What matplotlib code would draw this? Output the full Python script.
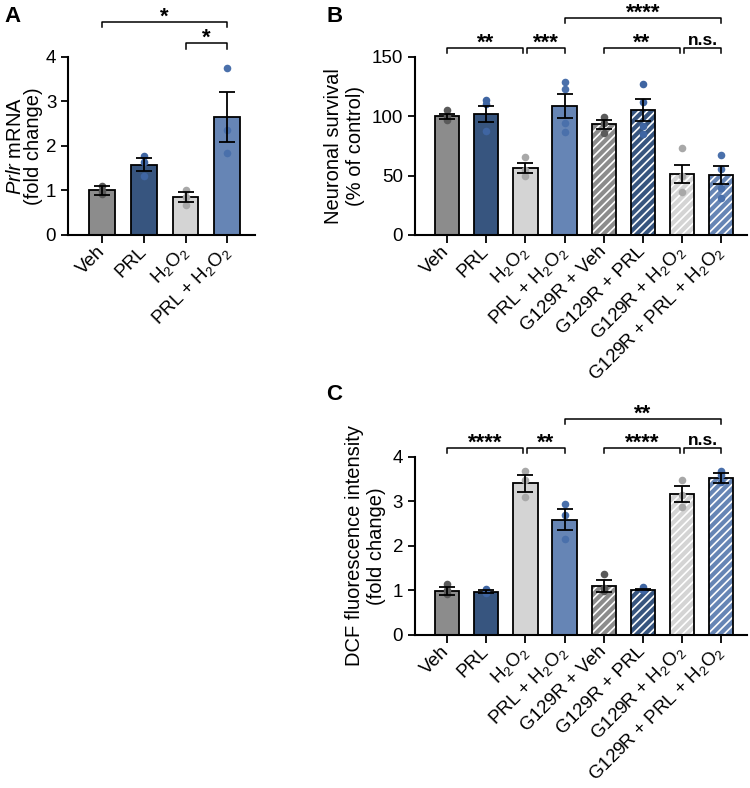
import numpy as np
import matplotlib
matplotlib.use("Agg")
import matplotlib.pyplot as plt

plt.rcParams['font.family'] = ['Liberation Sans', 'DejaVu Sans']
plt.rcParams['mathtext.fontset'] = 'custom'
plt.rcParams['mathtext.rm'] = 'Liberation Sans'
plt.rcParams['mathtext.it'] = 'Liberation Sans:italic'
plt.rcParams['hatch.linewidth'] = 1.2

# ---- data ----
labels_a = ['Veh', 'PRL', r'H$_2$O$_2$', r'PRL + H$_2$O$_2$']
mean_a = [1.0, 1.58, 0.86, 2.65]
sem_a = [0.1, 0.14, 0.11, 0.57]
dots_a = [[1.1, 0.98, 0.92], [1.78, 1.65, 1.32], [1.0, 0.86, 0.68], [3.75, 2.37, 1.85]]

labels_bc = ['Veh', 'PRL', r'H$_2$O$_2$', r'PRL + H$_2$O$_2$', 'G129R + Veh',
             'G129R + PRL', r'G129R + H$_2$O$_2$', r'G129R + PRL + H$_2$O$_2$']
mean_b = [100, 102, 56.4, 108.8, 93.4, 105, 51.6, 50.5]
sem_b = [2.2, 7, 4, 10.2, 3.8, 9.2, 7.7, 7.6]
dots_b = [[105, 100, 97], [114, 110, 88], [66, 55, 50], [129, 123, 94, 87],
          [99, 94, 86], [127, 112, 92, 85], [73, 50, 36], [67, 56, 40, 31]]

mean_c = [0.99, 0.97, 3.41, 2.59, 1.1, 1.02, 3.16, 3.52]
sem_c = [0.09, 0.03, 0.19, 0.24, 0.13, 0.02, 0.18, 0.11]
dots_c = [[1.15, 1.0, 0.93], [1.03, 0.98, 0.95], [3.69, 3.48, 3.09], [2.94, 2.70, 2.15],
          [1.37, 1.05, 0.99], [1.07, 1.02, 1.0], [3.48, 3.14, 2.88], [3.69, 3.59, 3.44]]

bar_colors = ['#8c8c8c', '#37557f', '#d4d4d4', '#6685b5']
dot_colors = ['#5a5a5a', '#3f65a2', '#a8a8a8', '#4a70ab']

# brackets: (i, j, row, text)
brackets_a = [(0, 3, 1, '*'), (2, 3, 0, '*')]
brackets_b = [(0, 2, 0, '**'), (2, 3, 0, '***'), (3, 7, 1, '****'),
              (4, 6, 0, '**'), (6, 7, 0, 'n.s.')]
brackets_c = [(0, 2, 0, '****'), (2, 3, 0, '**'), (3, 7, 1, '**'),
              (4, 6, 0, '****'), (6, 7, 0, 'n.s.')]


def draw_panel(ax, means, sems, dots, labels, ylim, yticks, ylabel, brackets, rows, drop,
               lblspacing=1.2, lblpad=5):
    n = len(means)
    x = np.arange(n)
    for i in range(n):
        c = i % 4
        if i < 4:
            ax.bar(x[i], means[i], 0.62, color=bar_colors[c], edgecolor='black',
                   linewidth=1.3, zorder=2)
        else:
            ax.bar(x[i], means[i], 0.62, color=bar_colors[c], edgecolor='white',
                   hatch='////', linewidth=0, zorder=2)
            ax.bar(x[i], means[i], 0.62, color='none', edgecolor='black',
                   linewidth=1.3, zorder=2.1)
        ax.scatter([x[i]] * len(dots[i]), dots[i], s=30, color=dot_colors[c],
                   zorder=3, linewidths=0, clip_on=False)
        ax.errorbar(x[i], means[i], yerr=sems[i], color='black', capsize=5.5,
                    elinewidth=1.3, capthick=1.3, zorder=4)

    ax.set_xlim(-0.82, n - 1 + 0.66)
    ax.set_ylim(*ylim)
    ax.set_yticks(yticks)
    ax.set_xticks(x)
    ax.set_xticklabels(labels, rotation=45, ha='right', va='center',
                       rotation_mode='anchor', fontsize=13.5)
    ax.set_ylabel(ylabel, fontsize=14.5, labelpad=lblpad, linespacing=lblspacing)
    ax.tick_params(axis='y', labelsize=13.5, width=1.3, length=5)
    ax.tick_params(axis='x', width=1.3, length=6, pad=4)
    ax.spines['top'].set_visible(False)
    ax.spines['right'].set_visible(False)
    ax.spines['left'].set_linewidth(1.5)
    ax.spines['bottom'].set_linewidth(1.5)

    for i, j, r, txt in brackets:
        y = rows[r]
        xi = i + 0.05 if any(b[1] == i and b[2] == r for b in brackets) else i
        xj = j - 0.05 if any(b[0] == j and b[2] == r for b in brackets) else j
        ax.plot([xi, xi, xj, xj], [y - drop, y, y, y - drop], color='black',
                lw=1.1, clip_on=False)
        if txt == 'n.s.':
            ax.annotate(txt, ((xi + xj) / 2, y), xytext=(0, 0), textcoords='offset points',
                        ha='center', va='bottom', fontsize=12.5, fontweight='bold',
                        annotation_clip=False)
        else:
            ax.annotate(txt, ((xi + xj) / 2, y), xytext=(0, -4), textcoords='offset points',
                        ha='center', va='bottom', fontsize=16, fontweight='bold',
                        annotation_clip=False)


fig = plt.figure(figsize=(7.5, 7.88), dpi=100)
ax_a = fig.add_axes([0.0907, 0.7018, 0.249, 0.2259])
ax_b = fig.add_axes([0.5533, 0.7018, 0.4427, 0.2259])
ax_c = fig.add_axes([0.5533, 0.1942, 0.4427, 0.2259])

draw_panel(ax_a, mean_a, sem_a, dots_a, labels_a, (0, 4), [0, 1, 2, 3, 4],
           '$\\it{Prlr}$ mRNA\n(fold change)', brackets_a, [4.31, 4.79], 0.12,
           lblspacing=0.9, lblpad=2)
draw_panel(ax_b, mean_b, sem_b, dots_b, labels_bc, (0, 150), [0, 50, 100, 150],
           'Neuronal survival\n(% of control)', brackets_b, [157.6, 182.9], 4.5)
draw_panel(ax_c, mean_c, sem_c, dots_c, labels_bc, (0, 4), [0, 1, 2, 3, 4],
           'DCF fluorescence intensity\n(fold change)', brackets_c, [4.2, 4.85], 0.12)

fig.text(0.006, 0.992, 'A', fontsize=16, fontweight='bold', va='top')
fig.text(0.435, 0.992, 'B', fontsize=16, fontweight='bold', va='top')
fig.text(0.435, 0.513, 'C', fontsize=16, fontweight='bold', va='top')

fig.savefig('out.png', dpi=100)
